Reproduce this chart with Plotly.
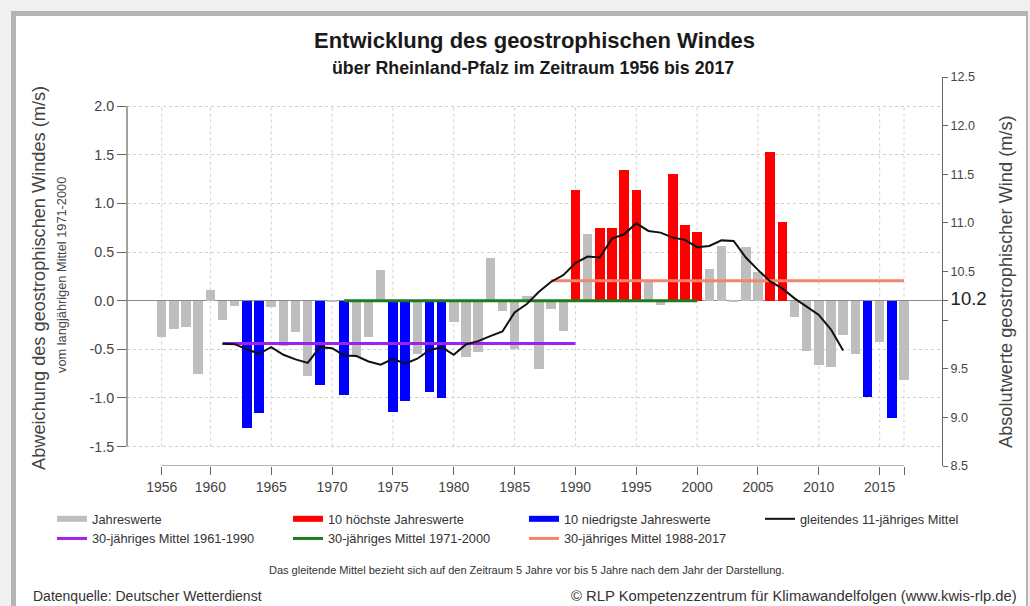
import plotly.graph_objects as go

# ---------------- data ----------------
years = list(range(1956, 2018))
anomaly = [
    -0.375, -0.29, -0.27, -0.75, 0.11, -0.20, -0.05, -1.31, -1.15, -0.07,   # 1956-1965
    -0.47, -0.32, -0.77, -0.87, -0.01, -0.97, -0.58, -0.375, 0.32, -1.14,   # 1966-1975
    -1.03, -0.55, -0.94, -1.00, -0.215, -0.58, -0.53, 0.44, -0.11, -0.495,  # 1976-1985
    0.05, -0.70, -0.09, -0.31, 1.14, 0.69, 0.75, 0.75, 1.34, 1.14,          # 1986-1995
    0.19, -0.045, 1.30, 0.775, 0.705, 0.33, 0.56, -0.01, 0.555, 0.30,       # 1996-2005
    1.53, 0.81, -0.17, -0.52, -0.665, -0.685, -0.35, -0.55, -0.99, -0.42,   # 2006-2015
    -1.205, -0.82,                                                          # 2016-2017
]
ma_years = list(range(1961, 2013))
moving_avg = [
    -0.444, -0.447, -0.50, -0.546, -0.478, -0.556, -0.604, -0.64, -0.478, -0.488,
    -0.563, -0.57, -0.625, -0.659, -0.597, -0.648, -0.597, -0.51, -0.478, -0.556,
    -0.45, -0.416, -0.365, -0.317, -0.12, -0.034, 0.092, 0.195, 0.263, 0.386,
    0.454, 0.444, 0.638, 0.683, 0.795, 0.717, 0.70, 0.648, 0.625, 0.55,
    0.563, 0.62, 0.614, 0.444, 0.317, 0.198, 0.126, 0.024, -0.061, -0.147,
    -0.297, -0.512,
]
mean_names = ["30-jähriges Mittel 1961-1990", "30-jähriges Mittel 1971-2000", "30-jähriges Mittel 1988-2017"]
mean_start = [1961, 1971, 1988]
mean_end = [1990, 2000, 2017]
mean_value = [-0.44, 0.0, 0.205]
mean_colors = ["#A020F0", "#1E7B1E", "#F3866C"]

BASE = 10.2  # absolute value corresponding to anomaly 0
x_ticks = [1956, 1960, 1965, 1970, 1975, 1980, 1985, 1990, 1995, 2000, 2005, 2010, 2015, 2017]
x_ticklabels = [str(v) for v in x_ticks[:-1]] + [""]
left_ticks = [-1.5, -1.0, -0.5, 0.0, 0.5, 1.0, 1.5, 2.0]
right_ticks = [8.5, 9.0, 9.5, 10.0, 10.2, 10.5, 11.0, 11.5, 12.0, 12.5]
right_ticklabels = ["8.5", "9.0", "9.5", "", '<span style="font-size:18.5px;fill:#222">10.2</span>',
                    "10.5", "11.0", "11.5", "12.0", "12.5"]

GRAY, RED, BLUE = "#BEBEBE", "#FF0000", "#0000FF"

# colour the 10 highest / lowest years
order = sorted(range(len(anomaly)), key=lambda i: anomaly[i])
low10, high10 = set(order[:10]), set(order[-10:])
bar_colors = [BLUE if i in low10 else RED if i in high10 else GRAY for i in range(len(anomaly))]

# ---------------- geometry ----------------
W, H = 1030, 606
L, R, T, B = 127, 88, 77, 140
PW, PH = W - L - R, H - T - B
XR = [1953.148, 2020.123]
YR = [8.5 - BASE, 12.5 - BASE]

def px(xp):
    return (xp - L) / PW

def py(yp):
    return (H - B - yp) / PH

FONT = "Liberation Sans, Arial, sans-serif"

fig = go.Figure()

fig.add_trace(go.Bar(x=years, y=anomaly, marker=dict(color=bar_colors, line=dict(width=0)),
                     width=0.78, showlegend=False, hoverinfo="x+y"))

for n, s, e, v, c in zip(mean_names, mean_start, mean_end, mean_value, mean_colors):
    fig.add_trace(go.Scatter(x=[s, e], y=[v, v], mode="lines", line=dict(color=c, width=3),
                             name=n, legendrank=5 + mean_names.index(n)))

fig.add_trace(go.Scatter(x=ma_years, y=moving_avg, mode="lines", line=dict(color="#111111", width=2),
                         name="gleitendes 11-jähriges Mittel", legendrank=4))

# legend entries for the bar colours
for nm, col, rk in [("Jahreswerte", GRAY, 1), ("10 höchste Jahreswerte", RED, 2),
                    ("10 niedrigste Jahreswerte", BLUE, 3)]:
    fig.add_trace(go.Scatter(x=[None], y=[None], mode="lines", line=dict(color=col, width=6),
                             name=nm, legendrank=rk))

# secondary (absolute) axis carrier
fig.add_trace(go.Scatter(x=[None], y=[None], yaxis="y2", showlegend=False))

shapes = []
# frame / shadow
shapes.append(dict(type="rect", xref="paper", yref="paper", x0=px(11), x1=px(1028), y0=py(11), y1=py(620),
                   fillcolor="#B4B4B4", line=dict(width=0), layer="below"))
shapes.append(dict(type="rect", xref="paper", yref="paper", x0=px(16), x1=px(1026), y0=py(16), y1=py(620),
                   fillcolor="white", line=dict(width=0), layer="below"))
# vertical dotted grid lines
for xv in x_ticks:
    shapes.append(dict(type="line", xref="x", yref="y", x0=xv, x1=xv, y0=left_ticks[0], y1=left_ticks[-1],
                       line=dict(color="#D0D0D0", width=1, dash="dot"), layer="below"))
# axis lines (R-style, spanning only the tick range)
shapes.append(dict(type="line", xref="x", yref="y", x0=x_ticks[0], x1=x_ticks[-1], y0=YR[0], y1=YR[0],
                   line=dict(color="#666666", width=1.2)))
shapes.append(dict(type="line", xref="paper", yref="y", x0=0, x1=0, y0=left_ticks[0], y1=left_ticks[-1],
                   line=dict(color="#666666", width=1.2)))

annotations = [
    dict(text="<b>Entwicklung des geostrophischen Windes</b>", x=px(534), y=py(40), xref="paper", yref="paper",
         showarrow=False, font=dict(size=22, color="#1a1a1a", family=FONT), xanchor="center", yanchor="middle"),
    dict(text="<b>über Rheinland-Pfalz im Zeitraum 1956 bis 2017</b>", x=px(533), y=py(68), xref="paper",
         yref="paper", showarrow=False, font=dict(size=17.8, color="#1a1a1a", family=FONT),
         xanchor="center", yanchor="middle"),
    dict(text="Abweichung des geostrophischen Windes (m/s)", x=px(39), y=py(278), xref="paper", yref="paper",
         textangle=-90, showarrow=False, font=dict(size=18.2, color="#444", family=FONT),
         xanchor="center", yanchor="middle"),
    dict(text="vom langjährigen Mittel 1971-2000", x=px(61), y=py(275), xref="paper", yref="paper",
         textangle=-90, showarrow=False, font=dict(size=12.8, color="#444", family=FONT),
         xanchor="center", yanchor="middle"),
    dict(text="Absolutwerte geostrophischer Wind (m/s)", x=px(1006), y=py(282), xref="paper", yref="paper",
         textangle=-90, showarrow=False, font=dict(size=18.2, color="#444", family=FONT),
         xanchor="center", yanchor="middle"),
    dict(text="Das gleitende Mittel bezieht sich auf den Zeitraum 5 Jahre vor bis 5 Jahre nach dem Jahr der Darstellung.",
         x=px(526), y=py(570), xref="paper", yref="paper", showarrow=False,
         font=dict(size=11, color="#333", family=FONT), xanchor="center", yanchor="middle"),
    dict(text="Datenquelle: Deutscher Wetterdienst", x=px(31), y=py(596), xref="paper", yref="paper",
         showarrow=False, font=dict(size=14, color="#333", family=FONT), xanchor="left", yanchor="middle"),
    dict(text="© RLP Kompetenzzentrum für Klimawandelfolgen (www.kwis-rlp.de)", x=px(1019), y=py(596),
         xref="paper", yref="paper", showarrow=False, font=dict(size=14.8, color="#333", family=FONT),
         xanchor="right", yanchor="middle"),
]

fig.update_layout(
    width=W, height=H,
    margin=dict(l=L, r=R, t=T, b=B, autoexpand=False),
    paper_bgcolor="#F0F0F0", plot_bgcolor="rgba(0,0,0,0)",
    font=dict(family=FONT, color="#444"),
    bargap=0,
    shapes=shapes, annotations=annotations,
    xaxis=dict(range=XR, tickvals=x_ticks, ticktext=x_ticklabels, ticks="outside", ticklen=8,
               tickcolor="#666", tickfont=dict(size=14, color="#444"), showgrid=False, zeroline=False,
               showline=False, fixedrange=True),
    yaxis=dict(range=YR, tickvals=left_ticks, ticktext=[f"{v:.1f}" for v in left_ticks], ticks="outside",
               ticklen=9, tickcolor="#666", tickfont=dict(size=14.3, color="#444"), showgrid=True,
               gridcolor="#D0D0D0", griddash="dot", gridwidth=1, zeroline=True, zerolinecolor="#8a8a8a",
               zerolinewidth=1, showline=False),
    yaxis2=dict(range=[YR[0] + BASE, YR[1] + BASE], overlaying="y", side="right", tickvals=right_ticks,
                ticktext=right_ticklabels, ticks="outside", ticklen=5, tickcolor="#666",
                tickfont=dict(size=12.6, color="#444"), showgrid=False, zeroline=False, showline=True,
                linecolor="#666", linewidth=1.2),
    legend=dict(orientation="h", x=px(52), y=py(504), xanchor="left", yanchor="top", entrywidth=191,
                font=dict(size=12.8, color="#333"), bgcolor="rgba(0,0,0,0)", traceorder="normal",
                itemwidth=30),
    showlegend=True,
)

fig.write_html("out.html", config={"displayModeBar": False},
               post_script="document.body.style.margin='0px';")
